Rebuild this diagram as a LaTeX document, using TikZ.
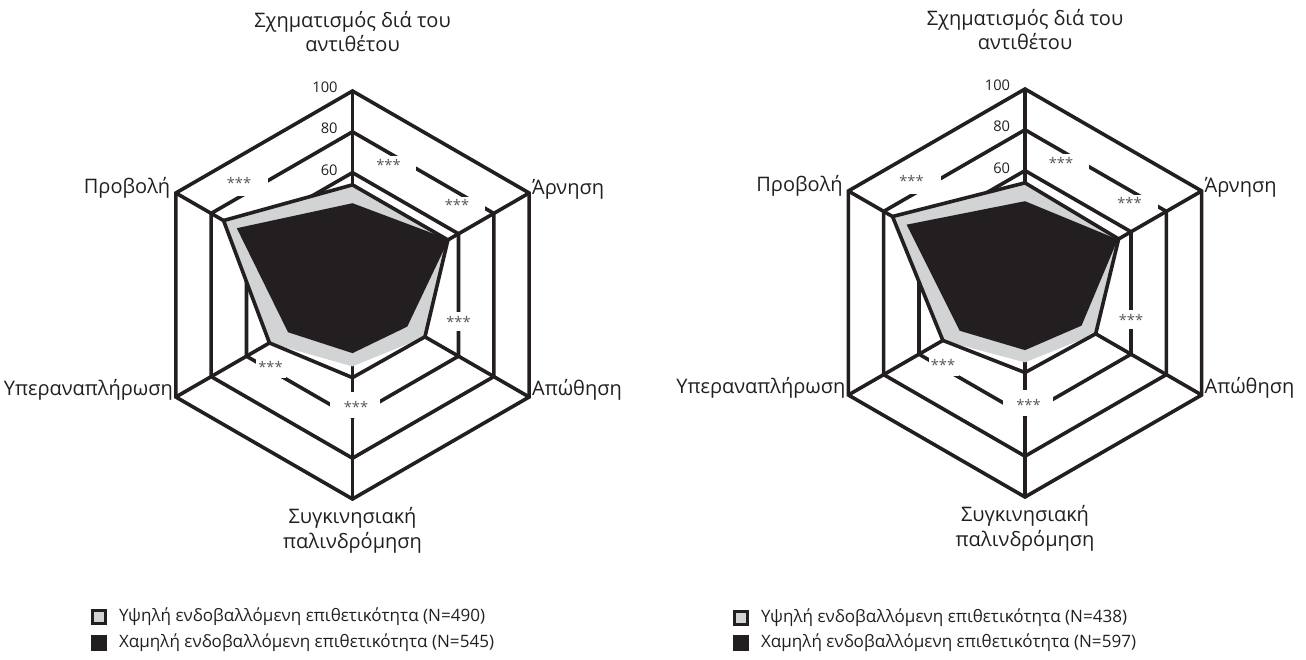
\documentclass[tikz,border=0pt]{standalone}
\usepackage{fontspec}
\setmainfont{Open Sans}
\usetikzlibrary{positioning}

\definecolor{ink}{HTML}{231F20}
\definecolor{paleink}{HTML}{D1D3D4}
\definecolor{starink}{HTML}{58595B}

\tikzset{
  web/.style={draw=ink, line width=2.7pt},
  hiarea/.style={fill=paleink},
  hiedge/.style={draw=ink, line width=2.7pt},
  loarea/.style={fill=ink},
  axisname/.style={text=ink, font=\fontsize{15}{18.5}\selectfont, inner sep=0pt, align=center},
  tick/.style={text=ink, font=\fontsize{11}{13}\selectfont, inner sep=0pt},
  stars/.style={text=starink, font=\fontsize{11}{12}\selectfont, inner sep=0pt},
  key/.style={draw=ink, line width=2.3pt, minimum size=9.5pt, inner sep=0pt},
  keytext/.style={text=ink, font=\fontsize{12.8}{15}\selectfont, inner sep=0pt},
}

\begin{document}
\begin{tikzpicture}[x=0.75pt, y=-0.75pt]
\useasboundingbox (0,0) rectangle (1306,660);

\begin{scope}[shift={(352.5,295)}, x=1.53pt, y=1.53pt]
  \foreach \r in {60,80,100}
    \draw[web] (90:\r) coordinate (L\r) -- (30:\r) -- (-30:\r) -- (-90:\r) -- (-150:\r) -- (150:\r) -- cycle;
  \foreach \a/\n in {90/t,30/ur,-30/lr,-90/b,-150/ll,150/ul}
    \draw[web] (0,0) -- (\a:100) coordinate (L\n);
  \fill[hiarea] (90:54) -- (30:54) -- (-30:41) -- (-90:35) -- (-150:47) -- (150:73) -- cycle;
  \draw[hiedge] (90:54) -- (30:54) -- (-30:41) -- (-90:40.5) -- (-150:47) -- (150:73) -- cycle;
  \fill[loarea] (90:45) -- (30:54.5) -- (-30:31) -- (-90:28.5) -- (-150:36.5) -- (150:65.5) -- cycle;
\end{scope}

\begin{scope}[shift={(1025,293)}, x=1.53pt, y=1.53pt]
  \foreach \r in {60,80,100}
    \draw[web] (90:\r) coordinate (R\r) -- (30:\r) -- (-30:\r) -- (-90:\r) -- (-150:\r) -- (150:\r) -- cycle;
  \foreach \a/\n in {90/t,30/ur,-30/lr,-90/b,-150/ll,150/ul}
    \draw[web] (0,0) -- (\a:100) coordinate (R\n);
  \fill[hiarea] (90:54) -- (30:53) -- (-30:40) -- (-90:34) -- (-150:46.5) -- (150:75) -- cycle;
  \draw[hiedge] (90:54) -- (30:53) -- (-30:40) -- (-90:39) -- (-150:46.5) -- (150:75) -- cycle;
  \fill[loarea] (90:45) -- (30:52.5) -- (-30:32) -- (-90:28) -- (-150:37) -- (150:67) -- cycle;
\end{scope}

\foreach \side/\dx/\dy in {L/0/0, R/672.5/-2}
  \begin{scope}[shift={(\dx,\dy)}]
    \foreach \xa/\ya/\xb/\yb/\xs/\ys [count=\i] in
      {375/156/416/178/388.5/165, 444/197/485/216/457/205, 226/178/268/196/239/183,
       445/312/470/331/458.5/322, 256/359/286/378/270.5/367, 330/392/380/418/356/407}
    {
      \fill[white] (\xa,\ya) rectangle (\xb,\yb);
      \node[stars] (\side s\i) at (\xs,\ys) {***};
    }
  \end{scope};

\foreach \s in {L,R} {
  \node[tick, left=11pt of \s100, yshift=3pt] (\s tick100) {100};
  \node[tick, left=11pt of \s80, yshift=3pt] (\s tick80) {80};
  \node[tick, left=11pt of \s60, yshift=2pt] (\s tick60) {60};
  \node[axisname, above=29pt of \s t] (\s top) {Σχηματισμός διά του\\αντιθέτου};
  \node[axisname, right=2pt of \s ur, yshift=3pt] (\s ur name) {Άρνηση};
  \node[axisname, right=2pt of \s lr, yshift=5pt] (\s lr name) {Απώθηση};
  \node[axisname, below=6pt of \s b] (\s bottom) {Συγκινησιακή\\παλινδρόμηση};
  \node[axisname, left=2pt of \s ll, yshift=5pt] (\s ll name) {Υπεραναπλήρωση};
  \node[axisname, left=4pt of \s ul, yshift=4pt] (\s ul name) {Προβολή};
}

\node[key, fill=paleink] (Lkey1) at (99,617) {};
\node[key, fill=ink] (Lkey2) at (99,643) {};
\node[keytext, right=9pt of Lkey1] (Lkeytext1) {Υψηλή ενδοβαλλόμενη επιθετικότητα (N=490)};
\node[keytext, right=9pt of Lkey2] (Lkeytext2) {Χαμηλή ενδοβαλλόμενη επιθετικότητα (N=545)};

\node[key, fill=paleink] (Rkey1) at (741,618) {};
\node[key, fill=ink] (Rkey2) at (741,643) {};
\node[keytext, right=9pt of Rkey1] (Rkeytext1) {Υψηλή ενδοβαλλόμενη επιθετικότητα (N=438)};
\node[keytext, right=9pt of Rkey2] (Rkeytext2) {Χαμηλή ενδοβαλλόμενη επιθετικότητα (N=597)};
\end{tikzpicture}
\end{document}
